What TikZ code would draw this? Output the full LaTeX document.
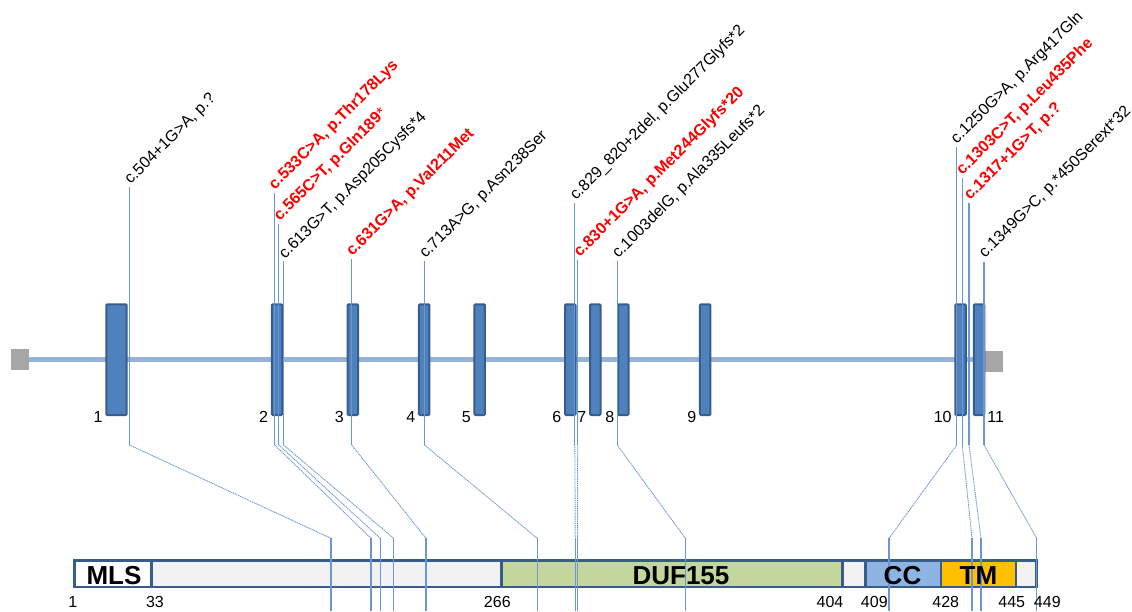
\documentclass[tikz,border=0pt]{standalone}
\usepackage{fontspec}
\setmainfont{Liberation Sans}
\definecolor{exfill}{HTML}{4F81BD}
\definecolor{exdraw}{HTML}{385D8A}
\definecolor{introncol}{HTML}{95B3D7}
\definecolor{mutcol}{HTML}{6A98D6}
\definecolor{utrcol}{HTML}{A6A6A6}
\definecolor{lgray}{HTML}{F2F2F2}
\definecolor{dufcol}{HTML}{C3D69B}
\definecolor{cccol}{HTML}{8EB4E3}
\definecolor{tmcol}{HTML}{FFC000}
\begin{document}
\begin{tikzpicture}[x=1pt,y=-1pt,
 exon/.style={fill=exfill,draw=exdraw,line width=2pt,rounded corners=1pt,minimum width=10.5pt,minimum height=110.7pt,inner sep=0pt},
 seg/.style={draw=exdraw,line width=2.6pt,minimum height=26.4pt,inner sep=0pt},
 utr/.style={fill=utrcol,draw=none,inner sep=0pt},
 mutlab/.style={font=\fontsize{16}{19}\selectfont,rotate=45,anchor=base west,inner sep=0pt},
 hotlab/.style={mutlab,text=red,font=\fontsize{16}{19}\selectfont\bfseries},
 numlab/.style={font=\fontsize{16}{19}\selectfont,inner sep=0pt},
 domlab/.style={font=\fontsize{26}{30}\selectfont\bfseries,inner sep=0pt},
 mline/.style={draw=mutcol,line width=1.1pt},
 dline/.style={draw=mutcol,line width=0.9pt,dash pattern=on 1.2pt off 0.7pt}]
\useasboundingbox (0,0) rectangle (1132,611);
% intron backbone and UTR squares
\node[utr,minimum width=18.3pt,minimum height=21pt] (utrL) at (19.85,359.5) {};
\node[utr,minimum width=17.4pt,minimum height=21pt] (utrR) at (994,361.5) {};
\coordinate (intronEnd) at (973.75,359.5);
\draw[draw=introncol,line width=5pt] (utrL.east) -- (intronEnd);
% exons
\node[exon,minimum width=20.4pt] (e1) at (116.5,359.65) {};
\foreach \i/\x in {2/277,3/352.8,4/424.2,5/479.7,6/570.3,7/595.3,8/623.3,9/705.2,10/960.5,11/979}
  \node[exon] (e\i) at (\x,359.65) {};
\foreach \i in {1,...,10}
  \node[numlab,anchor=east] (n\i) at ([shift={(-2.5,1)}]e\i.south west) {\i};
\node[numlab,anchor=west] (n11) at ([shift={(2,1)}]e11.south east) {11};
% protein bar
\node[seg,fill=white,minimum width=77.1pt] (sMLS) at (113.15,573.8) {};
\node[seg,fill=lgray,minimum width=350pt] (sG1) at (326.7,573.8) {};
\node[seg,fill=dufcol,minimum width=340.6pt] (sDUF) at (672,573.8) {};
\node[seg,fill=lgray,minimum width=23pt] (sG2) at (853.8,573.8) {};
\node[seg,fill=cccol,minimum width=75.7pt] (sCC) at (903.15,573.8) {};
\node[seg,fill=tmcol,minimum width=75pt] (sTM) at (978.5,573.8) {};
\node[seg,fill=lgray,minimum width=20.4pt] (sG3) at (1026.2,573.8) {};
% mutation connectors
\foreach \i/\xt/\yt/\xp in {1/129.5/187/331, 2/274.7/192.7/371, 3/278.8/224/380.2,
  4/283.5/260.7/393.7, 5/351.7/258.7/426, 6/424.5/261/537.3, 7/574.9/203/575.2,
  8/577.7/260/577.6, 9/617.2/261/685.3, 10/956.7/146.7/889, 11/962.3/178.3/972,
  12/969/203.3/981, 13/984/261.7/1036.7} {
  \coordinate (t\i) at (\xt,\yt);
  \coordinate (a\i) at (\xt,445);
  \coordinate (b\i) at (\xp,538.3);
  \coordinate (c\i) at (\xp,611);
  \draw[mline] (t\i) -- (a\i);
  \draw[dline] (a\i) -- (b\i);
  \draw[mline] (b\i) -- (c\i);
}
% domain texts
\node[domlab] (tMLS) at (114,575.5) {MLS};
\node[domlab] (tDUF) at (681,575.5) {DUF155};
\node[domlab] (tCC) at (902.5,575.5) {CC};
\node[domlab] (tTM) at (978.5,575.5) {TM};
% residue numbers
\foreach \v/\x in {1/72.7,33/155,266/497.3,404/830,409/874.3,428/945.7,445/1011.7,449/1047.3}
  \node[numlab] (r\v) at (\x,601.7) {\v};
% mutation labels
\node[mutlab] (L1) at ([shift={(1,-2)}]t1) {c.504+1G>A, p.?};
\node[hotlab] (L2) at ([shift={(0,-2.5)}]t2) {c.533C>A, p.Thr178Lys};
\node[hotlab] (L3) at ([shift={(1,-2.5)}]t3) {c.565C>T, p.Gln189{\mdseries*}};
\node[mutlab] (L4) at ([shift={(1.5,-1)}]t4) {c.613G>T, p.Asp205Cysfs*4};
\node[hotlab] (L5) at ([shift={(0.5,-2)}]t5) {c.631G>A, p.Val211Met};
\node[mutlab] (L6) at ([shift={(1,-2)}]t6) {c.713A>G, p.Asn238Ser};
\node[mutlab] (L7) at ([shift={(1,-2)}]t7) {c.829\_820+2del, p.Glu277Glyfs*2};
\node[hotlab] (L8) at ([shift={(2,-2)}]t8) {c.830+1G>A, p.Met244Glyfs*20};
\node[mutlab] (L9) at ([shift={(1,-2)}]t9) {c.1003delG, p.Ala335Leufs*2};
\node[mutlab] (L10) at ([shift={(0,-2)}]t10) {c.1250G>A, p.Arg417Gln};
\node[hotlab] (L11) at ([shift={(0,-2.5)}]t11) {c.1303C>T, p.Leu435Phe};
\node[hotlab] (L12) at ([shift={(1,-2.5)}]t12) {c.1317+1G>T, p.?};
\node[mutlab] (L13) at ([shift={(1,-3)}]t13) {c.1349G>C, p.*450Serext*32};
\end{tikzpicture}
\end{document}
